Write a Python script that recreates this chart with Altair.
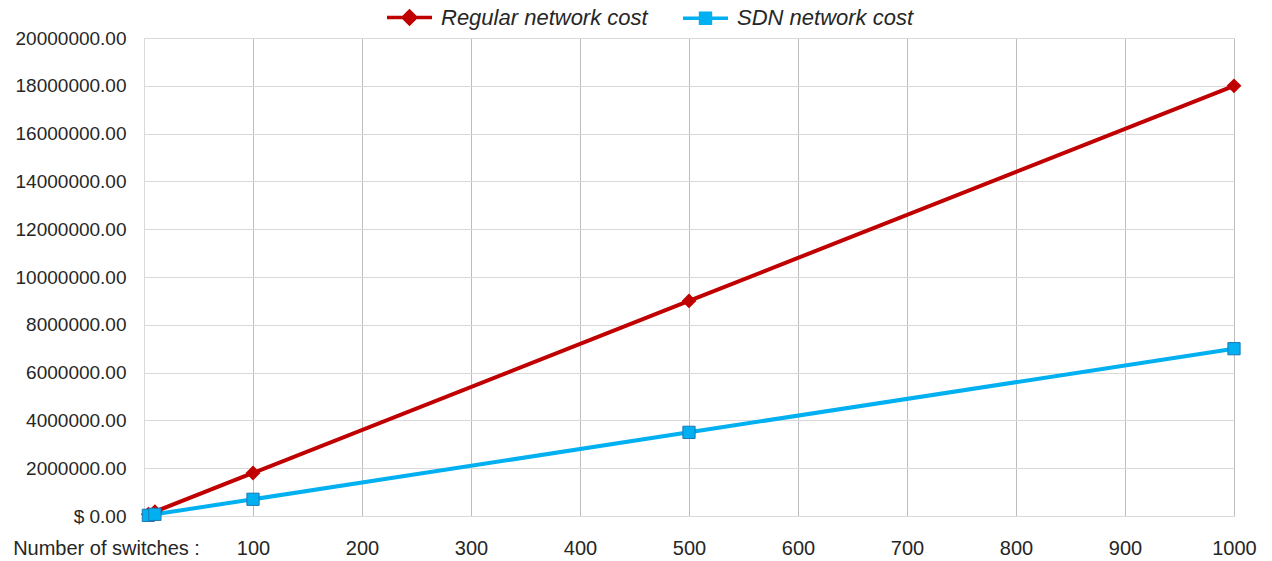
import altair as alt
import pandas as pd

switches = [4, 10, 100, 500, 1000]
regular_cost = [72000, 180000, 1800000, 9000000, 18000000]
sdn_cost = [28000, 70000, 700000, 3500000, 7000000]
series_names = ["Regular network cost", "SDN network cost"]
series_colors = ["#C00000", "#00B0F0"]
x_ticks = [0, 100, 200, 300, 400, 500, 600, 700, 800, 900, 1000]
y_ticks = [0, 2000000, 4000000, 6000000, 8000000, 10000000, 12000000,
           14000000, 16000000, 18000000, 20000000]

rows = []
for s, r, d in zip(switches, regular_cost, sdn_cost):
    rows.append({"switches": s, "cost": r, "series": series_names[0]})
    rows.append({"switches": s, "cost": d, "series": series_names[1]})
df = pd.DataFrame(rows)

FONT = "Liberation Sans"

x_enc = alt.X(
    "switches:Q",
    scale=alt.Scale(domain=[0, 1000], nice=False),
    axis=alt.Axis(
        values=x_ticks,
        title=None,
        format="d",
        labelExpr="datum.value == 0 ? 'Number of switches :' : datum.label",
        labelOffset={"condition": {"test": "datum.value == 0", "value": -38}, "value": 0},
        labelFlush=False,
        labelLimit=0,
        labelFont=FONT,
        labelFontSize=20,
        labelColor="#262626",
        labelPadding=22,
        ticks=False,
        domain=True,
        domainColor="#d9d9d9",
        domainWidth=1,
        grid=True,
        gridColor={"condition": {"test": "datum.value == 0", "value": "#d9d9d9"}, "value": "#bdbdbd"},
        gridWidth=1,
    ),
)
y_enc = alt.Y(
    "cost:Q",
    scale=alt.Scale(domain=[0, 20000000], nice=False),
    axis=alt.Axis(
        values=y_ticks,
        title=None,
        labelExpr="datum.value == 0 ? '$ 0.00' : format(datum.value, '.2f')",
        labelFont=FONT,
        labelFontSize=19,
        labelColor="#262626",
        labelPadding=18,
        ticks=False,
        domain=True,
        domainColor="#d9d9d9",
        grid=True,
        gridColor="#d9d9d9",
        gridWidth=1,
    ),
)

line_reg = alt.Chart(df).transform_filter(
    alt.datum.series == series_names[0]
).mark_line(strokeWidth=4, color=series_colors[0]).encode(x=x_enc, y=y_enc)

line_sdn = alt.Chart(df).transform_filter(
    alt.datum.series == series_names[1]
).mark_line(strokeWidth=4, color=series_colors[1]).encode(x="switches:Q", y="cost:Q")

diamonds = alt.Chart(df).transform_filter(
    alt.datum.series == series_names[0]
).mark_point(shape="diamond", filled=True, size=220, color=series_colors[0], opacity=1).encode(
    x="switches:Q", y="cost:Q"
)

squares = alt.Chart(df).transform_filter(
    alt.datum.series == series_names[1]
).mark_point(shape="square", filled=True, size=150, fill=series_colors[1],
             stroke="#1f78b4", strokeWidth=1, opacity=1).encode(
    x="switches:Q", y="cost:Q"
)

diamond_path = "M-1,0H-0.28M0.28,0H1M0,-0.28L0.28,0L0,0.28L-0.28,0Z"
square_path = "M-1,0H-0.22M0.22,0H1M-0.22,-0.22H0.22V0.22H-0.22Z"

legend_props = dict(
    orient="none", legendX=241, legendY=-45, direction="horizontal",
    symbolSize=2025, symbolStrokeWidth=3.5, symbolOpacity=1,
    labelFont=FONT, labelFontSize=22, labelFontStyle="italic",
    labelColor="#262626", labelOffset=7, columnPadding=28, labelLimit=0,
    title=None,
)

legend_layer = alt.Chart(df).mark_point(filled=True, opacity=0).encode(
    x="switches:Q", y="cost:Q",
    color=alt.Color("series:N", scale=alt.Scale(domain=series_names, range=series_colors),
                    title=None, legend=alt.Legend(**legend_props)),
    stroke=alt.Stroke("series:N", scale=alt.Scale(domain=series_names, range=series_colors),
                      title=None, legend=alt.Legend(**legend_props)),
    shape=alt.Shape("series:N", scale=alt.Scale(domain=series_names, range=[diamond_path, square_path]),
                    title=None, legend=alt.Legend(**legend_props)),
)

chart = alt.layer(line_reg, line_sdn, diamonds, squares, legend_layer).properties(
    width=1090, height=478,
    autosize=alt.AutoSizeParams(type="none"),
    padding={"left": 144, "top": 38, "right": 38, "bottom": 45},
    background="white",
).configure_view(stroke=None)

chart.save("out.html", embed_options={"renderer": "svg", "actions": False})
